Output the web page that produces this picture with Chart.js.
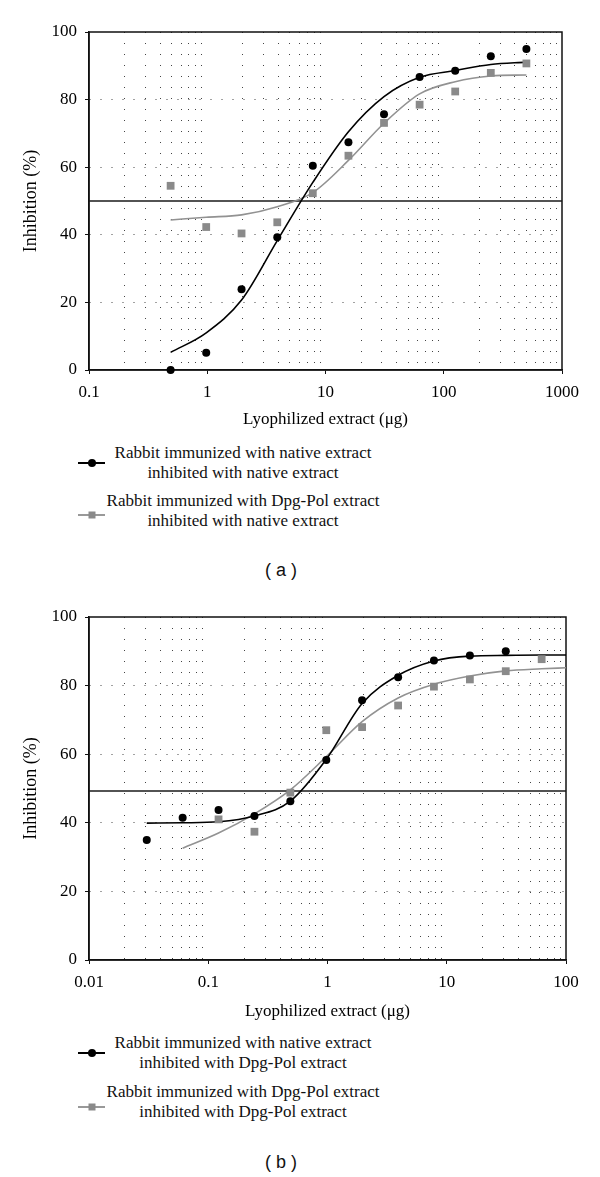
<!DOCTYPE html>
<html lang="en">
<head>
<meta charset="UTF-8" />
<title>Inhibition curves</title>
<style>
  body { margin: 0; background: #fff; font-family: "Liberation Serif", "DejaVu Serif", serif; color: #111; }
  #page { position: relative; width: 600px; height: 1177px; }
  .panel { position: absolute; left: 0; width: 600px; }
  .leg { position: absolute; left: 43px; width: 400px; text-align: center; font-size: 17px; line-height: 20px; }
  .sym { position: absolute; left: 78px; width: 27px; height: 2px; }
  .sym i { position: absolute; left: 50%; top: 50%; transform: translate(-50%, -50%); }
  .dot { width: 8px; height: 8px; border-radius: 50%; background: #000; }
  .sq { width: 7px; height: 7px; background: #8a8a8a; }
  .caption { position: absolute; left: 231px; width: 100px; text-align: center; font-family: "Liberation Sans", Arial, sans-serif; font-size: 18px; line-height: 20px; }
</style>
<script src="https://cdn.jsdelivr.net/npm/chart.js"></script>
</head>
<body>
<div id="page">
  <div class="panel" style="top:0;height:440px"><canvas id="chartA" width="600" height="440"></canvas></div>

  <div class="sym" style="top:462px;background:#000"><i class="dot"></i></div>
  <div class="leg" style="top:443px">Rabbit immunized with native extract<br>inhibited with native extract</div>
  <div class="sym" style="top:514px;background:#999"><i class="sq"></i></div>
  <div class="leg" style="top:491px">Rabbit immunized with Dpg-Pol extract<br>inhibited with native extract</div>
  <div class="caption" style="top:560px">( a )</div>

  <div class="panel" style="top:585px;height:445px"><canvas id="chartB" width="600" height="445"></canvas></div>

  <div class="sym" style="top:1052px;background:#000"><i class="dot"></i></div>
  <div class="leg" style="top:1033px">Rabbit immunized with native extract<br>inhibited with Dpg-Pol extract</div>
  <div class="sym" style="top:1106px;background:#999"><i class="sq"></i></div>
  <div class="leg" style="top:1082px">Rabbit immunized with Dpg-Pol extract<br>inhibited with Dpg-Pol extract</div>
  <div class="caption" style="top:1152px">( b )</div>
</div>

<script>
  // panel (a): inhibited with native extract
  const doseA = [0.49, 0.98, 1.95, 3.91, 7.81, 15.63, 31.25, 62.5, 125, 250, 500];
  const nativeA = [0, 5.1, 23.9, 39.3, 60.4, 67.4, 75.7, 86.7, 88.5, 92.8, 95];
  const dpgA = [54.5, 42.3, 40.4, 43.7, 52.3, 63.4, 73.1, 78.5, 82.4, 87.9, 90.7];
  const nativeFitA = [5.2, 11, 20.7, 38.3, 55.5, 70.5, 80.9, 86.6, 88.6, 90.4, 91.1];
  const dpgFitA = [44.4, 45.2, 45.9, 48.3, 52.5, 62, 73, 81.7, 85.3, 87, 87.3];
  const cutoffA = 50;
  const xTicksA = [0.1, 1, 10, 100, 1000];

  // panel (b): inhibited with Dpg-Pol extract
  const doseNativeB = [0.0305, 0.061, 0.122, 0.244, 0.488, 0.977, 1.95, 3.91, 7.81, 15.63, 31.25];
  const nativeB = [35, 41.5, 43.7, 42, 46.3, 58.3, 75.7, 82.4, 87.3, 88.8, 90];
  const doseDpgB = [0.122, 0.244, 0.488, 0.977, 1.95, 3.91, 7.81, 15.63, 31.25, 62.5];
  const dpgB = [41, 37.4, 48.8, 67, 67.9, 74.2, 79.7, 81.8, 84.2, 87.7];
  const fitDoseNativeB = [0.0305, 0.061, 0.122, 0.244, 0.488, 0.977, 1.95, 3.91, 7.81, 15.63, 31.25, 62.5, 100];
  const nativeFitB = [39.9, 40, 40.3, 42, 46.3, 58.5, 74.8, 83, 87.2, 88.6, 88.8, 88.9, 88.9];
  const fitDoseDpgB = [0.061, 0.122, 0.244, 0.488, 0.977, 1.95, 3.91, 7.81, 15.63, 31.25, 62.5, 100];
  const dpgFitB = [32.6, 37, 42.6, 49.6, 59.3, 69.5, 76.4, 80.4, 82.8, 84.3, 84.9, 85.2];
  const cutoffB = 49.3;
  const xTicksB = [0.01, 0.1, 1, 10, 100];

  const yTicks = [0, 20, 40, 60, 80, 100];

  Chart.defaults.font.family = '"Liberation Serif", "DejaVu Serif", serif';
  Chart.defaults.color = '#000';

  const CLEAR = 'rgba(0,0,0,0)';
  const DOTS = '#444';

  function toPoints(xs, ys) {
    return xs.map((x, i) => ({ x: x, y: ys[i] }));
  }

  function mantissa(v) {
    const e = Math.floor(Math.log10(v) + 1e-9);
    return v / Math.pow(10, e);
  }

  function decadeIndex(v, labels) {
    return labels.findIndex((t) => Math.abs(Math.log10(v) - Math.log10(t)) < 1e-6);
  }

  // box round the plot area (top and right sides have no axis)
  const frame = {
    id: 'frame',
    beforeDatasetsDraw(chart) {
      const a = chart.chartArea;
      const ctx = chart.ctx;
      ctx.save();
      ctx.strokeStyle = '#111';
      ctx.lineWidth = 1.5;
      ctx.strokeRect(a.left, a.top, a.right - a.left, a.bottom - a.top);
      ctx.restore();
    }
  };

  function drawPanel(id, p) {
    const xMin = p.xTicks[0];
    const xMax = p.xTicks[p.xTicks.length - 1];
    return new Chart(document.getElementById(id), {
      type: 'scatter',
      data: {
        datasets: [
          {
            label: 'native',
            data: toPoints(p.doseNative, p.native),
            pointStyle: 'circle',
            pointRadius: 4,
            pointBackgroundColor: '#000',
            pointBorderWidth: 0,
            showLine: false,
            clip: false
          },
          {
            label: 'Dpg-Pol',
            data: toPoints(p.doseDpg, p.dpg),
            pointStyle: 'rect',
            pointRadius: 5.5,
            pointBackgroundColor: '#8a8a8a',
            pointBorderWidth: 0,
            showLine: false,
            clip: false
          },
          {
            label: 'native fit',
            data: toPoints(p.fitDoseNative, p.nativeFit),
            showLine: true,
            pointRadius: 0,
            borderColor: '#000',
            borderWidth: 1.6,
            cubicInterpolationMode: 'monotone'
          },
          {
            label: 'Dpg-Pol fit',
            data: toPoints(p.fitDoseDpg, p.dpgFit),
            showLine: true,
            pointRadius: 0,
            borderColor: '#929292',
            borderWidth: 1.6,
            cubicInterpolationMode: 'monotone'
          },
          {
            label: 'cutoff',
            data: toPoints([xMin, xMax], [p.cutoff, p.cutoff]),
            showLine: true,
            pointRadius: 0,
            borderColor: '#1a1a1a',
            borderWidth: 1.5
          }
        ]
      },
      options: {
        responsive: false,
        devicePixelRatio: 1,
        animation: false,
        events: [],
        layout: { padding: { left: 0, top: 32, right: p.padRight, bottom: 0 } },
        plugins: { legend: { display: false }, tooltip: { enabled: false } },
        scales: {
          x: {
            type: 'logarithmic',
            min: xMin,
            max: xMax,
            afterBuildTicks: (s) => {
              s.ticks = s.ticks.filter((t) => {
                const m = mantissa(t.value);
                return Math.abs(m - Math.round(m)) < 1e-6;
              });
            },
            afterFit: (s) => { s.height = 70; },
            ticks: {
              autoSkip: false,
              maxRotation: 0,
              padding: 8,
              font: { size: 17 },
              callback: (v) => {
                const i = decadeIndex(v, p.xTicks);
                return i >= 0 ? String(p.xTicks[i]) : '';
              }
            },
            grid: {
              lineWidth: 1,
              tickLength: 4,
              color: (c) => (!c.tick || decadeIndex(c.tick.value, p.xTicks) >= 0 ? CLEAR : DOTS),
              tickColor: (c) => (c.tick && decadeIndex(c.tick.value, p.xTicks) >= 0 ? '#111' : CLEAR)
            },
            border: { color: '#111', width: 1.5, dash: [1, 10] },
            title: {
              display: true,
              text: 'Lyophilized extract (μg)',
              font: { size: 17 },
              padding: { top: 0, bottom: p.titlePad }
            }
          },
          y: {
            min: yTicks[0],
            max: yTicks[yTicks.length - 1],
            afterFit: (s) => { s.width = 89; },
            ticks: { stepSize: 20, padding: 8, font: { size: 17 } },
            grid: {
              lineWidth: 1,
              tickLength: 4,
              tickColor: '#111',
              color: (c) => (!c.tick || c.tick.value === yTicks[0] || c.tick.value === yTicks[yTicks.length - 1] ? CLEAR : DOTS)
            },
            border: { color: '#111', width: 1.5, dash: [1, 10] },
            title: {
              display: true,
              text: 'Inhibition (%)',
              font: { size: 18 },
              padding: { top: 20, bottom: 0 }
            }
          }
        }
      },
      plugins: [frame]
    });
  }

  drawPanel('chartA', {
    xTicks: xTicksA,
    doseNative: doseA, native: nativeA,
    doseDpg: doseA, dpg: dpgA,
    fitDoseNative: doseA, nativeFit: nativeFitA,
    fitDoseDpg: doseA, dpgFit: dpgFitA,
    cutoff: cutoffA,
    padRight: 38,
    titlePad: 10
  });

  drawPanel('chartB', {
    xTicks: xTicksB,
    doseNative: doseNativeB, native: nativeB,
    doseDpg: doseDpgB, dpg: dpgB,
    fitDoseNative: fitDoseNativeB, nativeFit: nativeFitB,
    fitDoseDpg: fitDoseDpgB, dpgFit: dpgFitB,
    cutoff: cutoffB,
    padRight: 34,
    titlePad: 8
  });
</script>
</body>
</html>
